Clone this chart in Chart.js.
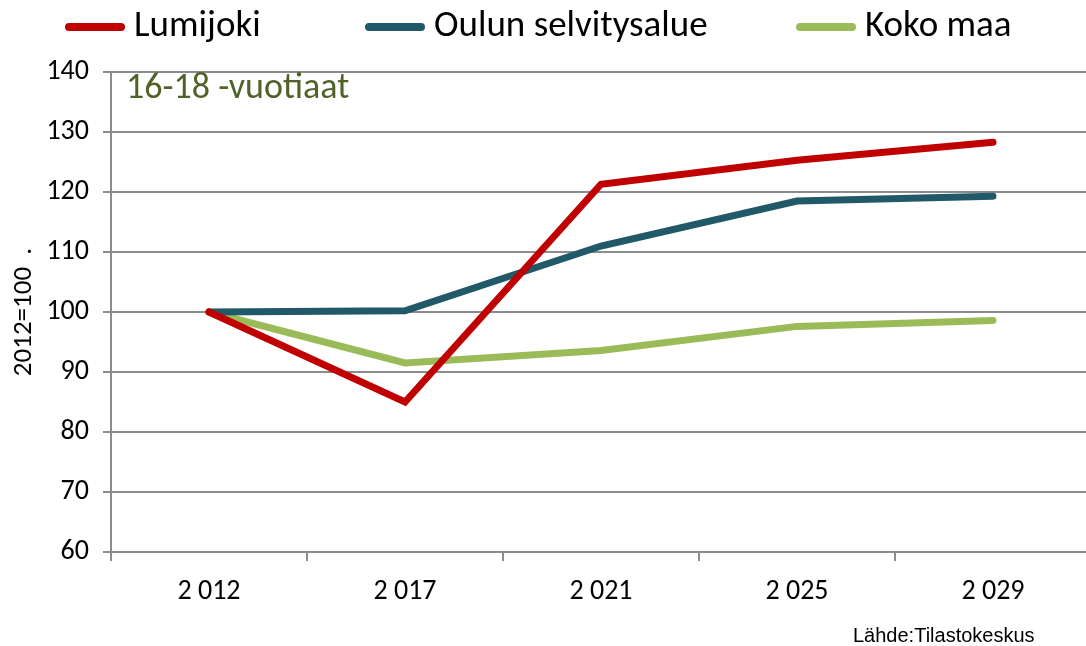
<!DOCTYPE html>
<html>
<head>
<meta charset="utf-8">
<script src="https://cdn.jsdelivr.net/npm/chart.js@4/dist/chart.umd.min.js"></script>
<style>
  html, body { margin: 0; padding: 0; background: #fff; overflow: hidden; }
  #wrap { position: relative; width: 1092px; height: 646px; }
</style>
</head>
<body>
<div id="wrap"><canvas id="myChart"></canvas></div>
<script>
var years = ['2 012', '2 017', '2 021', '2 025', '2 029']
var lumijoki = [100, 85, 121.3, 125.3, 128.3]
var oulu = [100, 100.2, 111, 118.5, 119.3]
var kokoMaa = [100, 91.5, 93.6, 97.6, 98.6]
var yTicks = [60, 70, 80, 90, 100, 110, 120, 130, 140]

var FONT = "Carlito, 'Open Sans', 'Liberation Sans', sans-serif"
var GRID = '#8c8c8c'

// legend, age label and source note drawn on the canvas
var extras = {
    id: 'extras',
    afterDraw: function(chart) {
        var ctx = chart.ctx
        var area = chart.chartArea
        ctx.save()
        var legendX = [65, 365, 796]
        ctx.font = "37px " + FONT
        ctx.textBaseline = 'middle'
        chart.data.datasets.forEach(function(ds, i) {
            ctx.strokeStyle = ds.borderColor
            ctx.lineWidth = 8
            ctx.lineCap = 'round'
            ctx.beginPath()
            ctx.moveTo(legendX[i] + 4, 27)
            ctx.lineTo(legendX[i] + 56, 27)
            ctx.stroke()
            ctx.fillStyle = '#000'
            ctx.fillText(ds.label, legendX[i] + 69, 27)
        })
        ctx.fillStyle = '#4f6228'
        ctx.font = "36px " + FONT
        ctx.textBaseline = 'middle'
        ctx.fillText('16-18 -vuotiaat', area.left + 15, area.top + 17)
        ctx.fillStyle = '#000'
        ctx.font = "20px 'Liberation Sans', Arial, sans-serif"
        ctx.textBaseline = 'middle'
        ctx.fillText('Lähde:Tilastokeskus', 853, 636)
        ctx.restore()
    }
}

function line(label, data, color) {
    return {
        label: label,
        data: data,
        borderColor: color,
        backgroundColor: color,
        borderWidth: 7,
        borderCapStyle: 'round',
        borderJoinStyle: 'miter',
        pointRadius: 0,
        tension: 0
    }
}

var ctx = document.getElementById('myChart')
var myChart = new Chart(ctx, {
    type: 'line',
    data: {
        labels: years,
        datasets: [
            line('Lumijoki', lumijoki, '#c00000'),
            line('Oulun selvitysalue', oulu, '#215968'),
            line('Koko maa', kokoMaa, '#9bbb59')
        ]
    },
    options: {
        responsive: true,
        maintainAspectRatio: false,
        animation: false,
        layout: { padding: { top: 72, right: 1, left: 0, bottom: 0 } },
        plugins: {
            legend: { display: false },
            tooltip: { enabled: false }
        },
        scales: {
            x: {
                offset: true,
                grid: {
                    offset: true,
                    drawOnChartArea: false,
                    drawTicks: true,
                    tickLength: 9,
                    color: GRID,
                    lineWidth: 2
                },
                border: { color: GRID, width: 2 },
                ticks: { color: '#000', font: { family: FONT, size: 28 }, padding: 14 },
                afterFit: function(scale) { scale.height = 94 }
            },
            y: {
                min: 60,
                max: 140,
                afterBuildTicks: function(scale) {
                    scale.ticks = yTicks.map(function(v) { return { value: v } })
                },
                grid: {
                    color: GRID,
                    lineWidth: 2,
                    drawTicks: true,
                    tickLength: 8
                },
                border: { color: GRID, width: 2 },
                ticks: { color: '#000', font: { family: FONT, size: 28 }, padding: 14 },
                title: {
                    display: true,
                    text: '2012=100  .',
                    color: '#000',
                    font: { family: FONT, size: 27 },
                    padding: { top: 8, bottom: 0 }
                },
                afterFit: function(scale) { scale.width = 111 }
            }
        }
    },
    plugins: [extras]
})
</script>
</body>
</html>
